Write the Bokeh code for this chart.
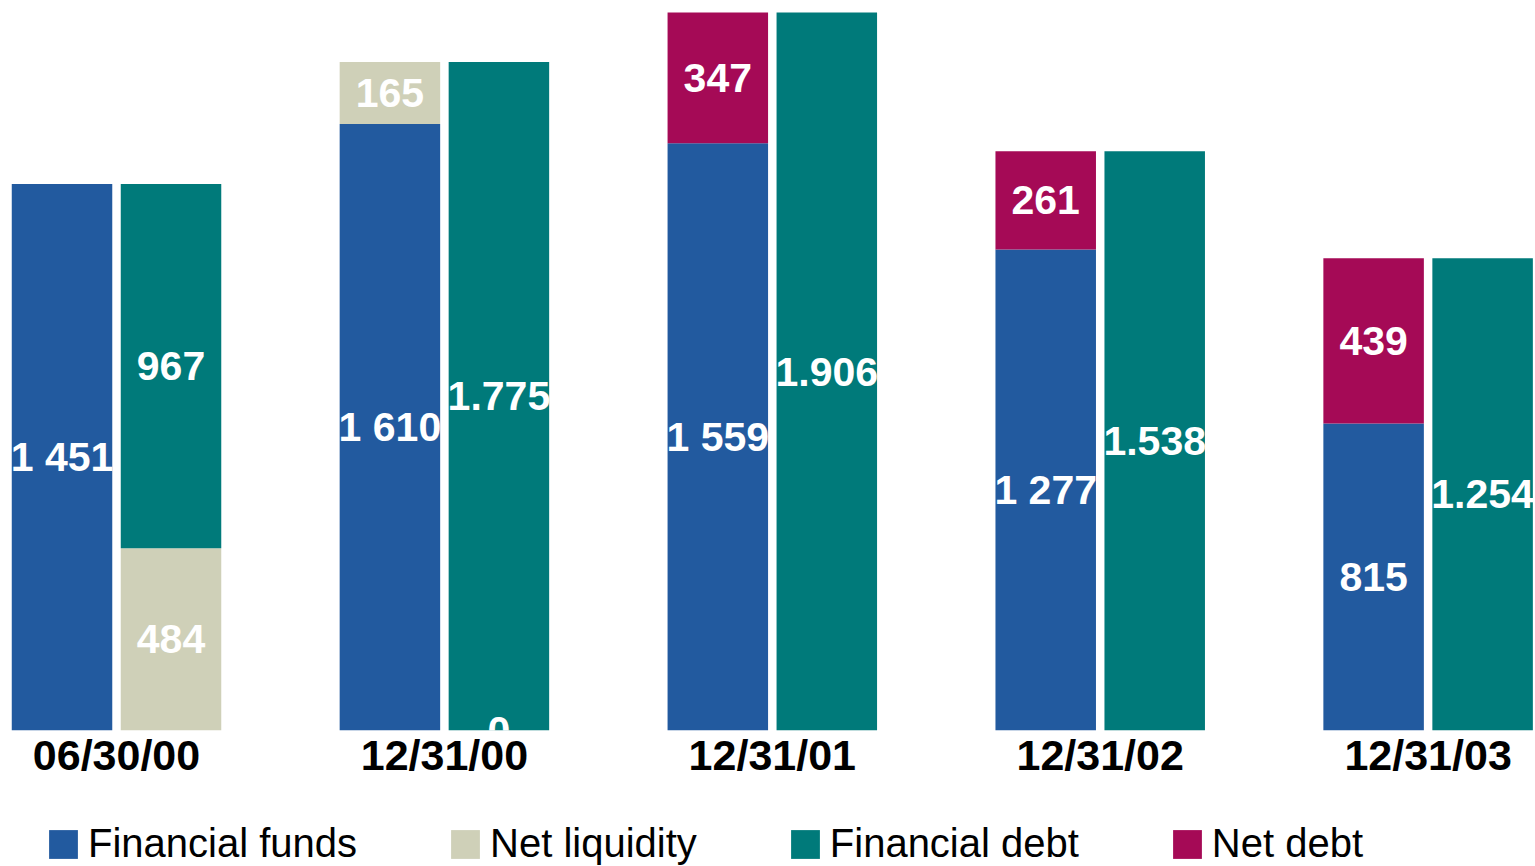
from bokeh.plotting import figure
from bokeh.layouts import column
from bokeh.models import ColumnDataSource, Legend, LegendItem, FixedTicker, Range1d
from bokeh.core.properties import value
from bokeh.embed import file_html
from bokeh.resources import INLINE

# ---- data ----
dates = ["06/30/00", "12/31/00", "12/31/01", "12/31/02", "12/31/03"]
financial_funds = [1451, 1610, 1559, 1277, 815]
financial_debt = [967, 1775, 1906, 1538, 1254]
net_liquidity_left = [None, 165, None, None, None]   # on top of financial funds
net_liquidity_right = [484, 0, None, None, None]     # below financial debt
net_debt = [None, None, 347, 261, 439]               # on top of financial funds

series_names = ["Financial funds", "Net liquidity", "Financial debt", "Net debt"]
colors = {"Financial funds": "#225A9F", "Net liquidity": "#CFD0B8",
          "Financial debt": "#007A7A", "Net debt": "#A50A56"}

FONT = "Liberation Sans"
OFF = 0.1662
W = 0.3065


def fmt_space(v):
    return f"{v:,}".replace(",", " ")


def fmt_dot(v):
    return f"{v:,}".replace(",", ".")


p = figure(width=1535, height=790, output_backend="svg", toolbar_location=None,
           x_range=Range1d(-0.3538, 4.3275), y_range=Range1d(0, 1938),
           y_axis_location=None, min_border_left=0, min_border_right=0,
           min_border_top=0, min_border_bottom=60)
p.xgrid.visible = False
p.ygrid.visible = False
p.outline_line_color = None
p.background_fill_color = "white"
p.border_fill_color = "white"

# segments
seg = {k: dict(x=[], bottom=[], top=[]) for k in series_names}
labels = dict(x=[], y=[], text=[])

for i, d in enumerate(dates):
    xl = i - OFF
    xr = i + OFF
    # left stack
    f = financial_funds[i]
    seg["Financial funds"]["x"].append(xl)
    seg["Financial funds"]["bottom"].append(0)
    seg["Financial funds"]["top"].append(f)
    labels["x"].append(xl); labels["y"].append(f / 2); labels["text"].append(fmt_space(f))
    if net_liquidity_left[i] is not None:
        v = net_liquidity_left[i]
        seg["Net liquidity"]["x"].append(xl)
        seg["Net liquidity"]["bottom"].append(f)
        seg["Net liquidity"]["top"].append(f + v)
        labels["x"].append(xl); labels["y"].append(f + v / 2); labels["text"].append(fmt_space(v))
    if net_debt[i] is not None:
        v = net_debt[i]
        seg["Net debt"]["x"].append(xl)
        seg["Net debt"]["bottom"].append(f)
        seg["Net debt"]["top"].append(f + v)
        labels["x"].append(xl); labels["y"].append(f + v / 2); labels["text"].append(fmt_space(v))
    # right stack
    base = 0
    if net_liquidity_right[i] is not None:
        v = net_liquidity_right[i]
        seg["Net liquidity"]["x"].append(xr)
        seg["Net liquidity"]["bottom"].append(0)
        seg["Net liquidity"]["top"].append(v)
        labels["x"].append(xr); labels["y"].append(v / 2); labels["text"].append(fmt_space(v))
        base = v
    v = financial_debt[i]
    seg["Financial debt"]["x"].append(xr)
    seg["Financial debt"]["bottom"].append(base)
    seg["Financial debt"]["top"].append(base + v)
    labels["x"].append(xr); labels["y"].append(base + v / 2); labels["text"].append(fmt_dot(v))

for name in series_names:
    src = ColumnDataSource(seg[name])
    p.vbar(x="x", bottom="bottom", top="top", width=W, source=src,
           fill_color=colors[name], line_color=None)

p.text(x="x", y="y", text="text", source=ColumnDataSource(labels),
       text_color="white", text_font=value(FONT), text_font_style="bold",
       text_font_size="41px", text_align="center", text_baseline="middle")

# x axis with dates
p.xaxis.ticker = FixedTicker(ticks=list(range(len(dates))))
p.xaxis.major_label_overrides = {i: d for i, d in enumerate(dates)}
p.xaxis.major_label_text_font = FONT
p.xaxis.major_label_text_font_style = "bold"
p.xaxis.major_label_text_font_size = "43px"
p.xaxis.major_label_text_color = "black"
p.xaxis.major_label_standoff = 0
p.xaxis.axis_line_color = None
p.xaxis.major_tick_line_color = None
p.xaxis.minor_tick_line_color = None
p.xaxis.major_tick_out = 0
p.xaxis.major_tick_in = 0

# ---- legend strip (swatch renderers are zero-size, so only the legend shows them) ----
lg = figure(width=1535, height=76, output_backend="svg", toolbar_location=None,
            x_range=Range1d(0, 1), y_range=Range1d(0, 1),
            x_axis_location=None, y_axis_location=None,
            min_border_left=0, min_border_right=0, min_border_top=0, min_border_bottom=0)
lg.xgrid.visible = False
lg.ygrid.visible = False
lg.outline_line_color = None
lg.border_fill_color = "white"
lg.background_fill_color = "white"

items = []
for name in series_names:
    r = lg.vbar(x=[0.99], top=[0.9], bottom=[0.9], width=0,
                fill_color=colors[name], line_color=None)
    items.append(LegendItem(label=name, renderers=[r]))

legend = Legend(items=items, orientation="horizontal", location=(45, 0),
                label_text_font=FONT, label_text_font_size="40px", label_text_color="black",
                glyph_width=36, glyph_height=36, label_standoff=7, spacing=90,
                padding=0, margin=0, border_line_color=None, background_fill_alpha=0)
lg.add_layout(legend, "center")

layout = column(p, lg, spacing=0)
open("out.html", "w").write(file_html(layout, INLINE))
